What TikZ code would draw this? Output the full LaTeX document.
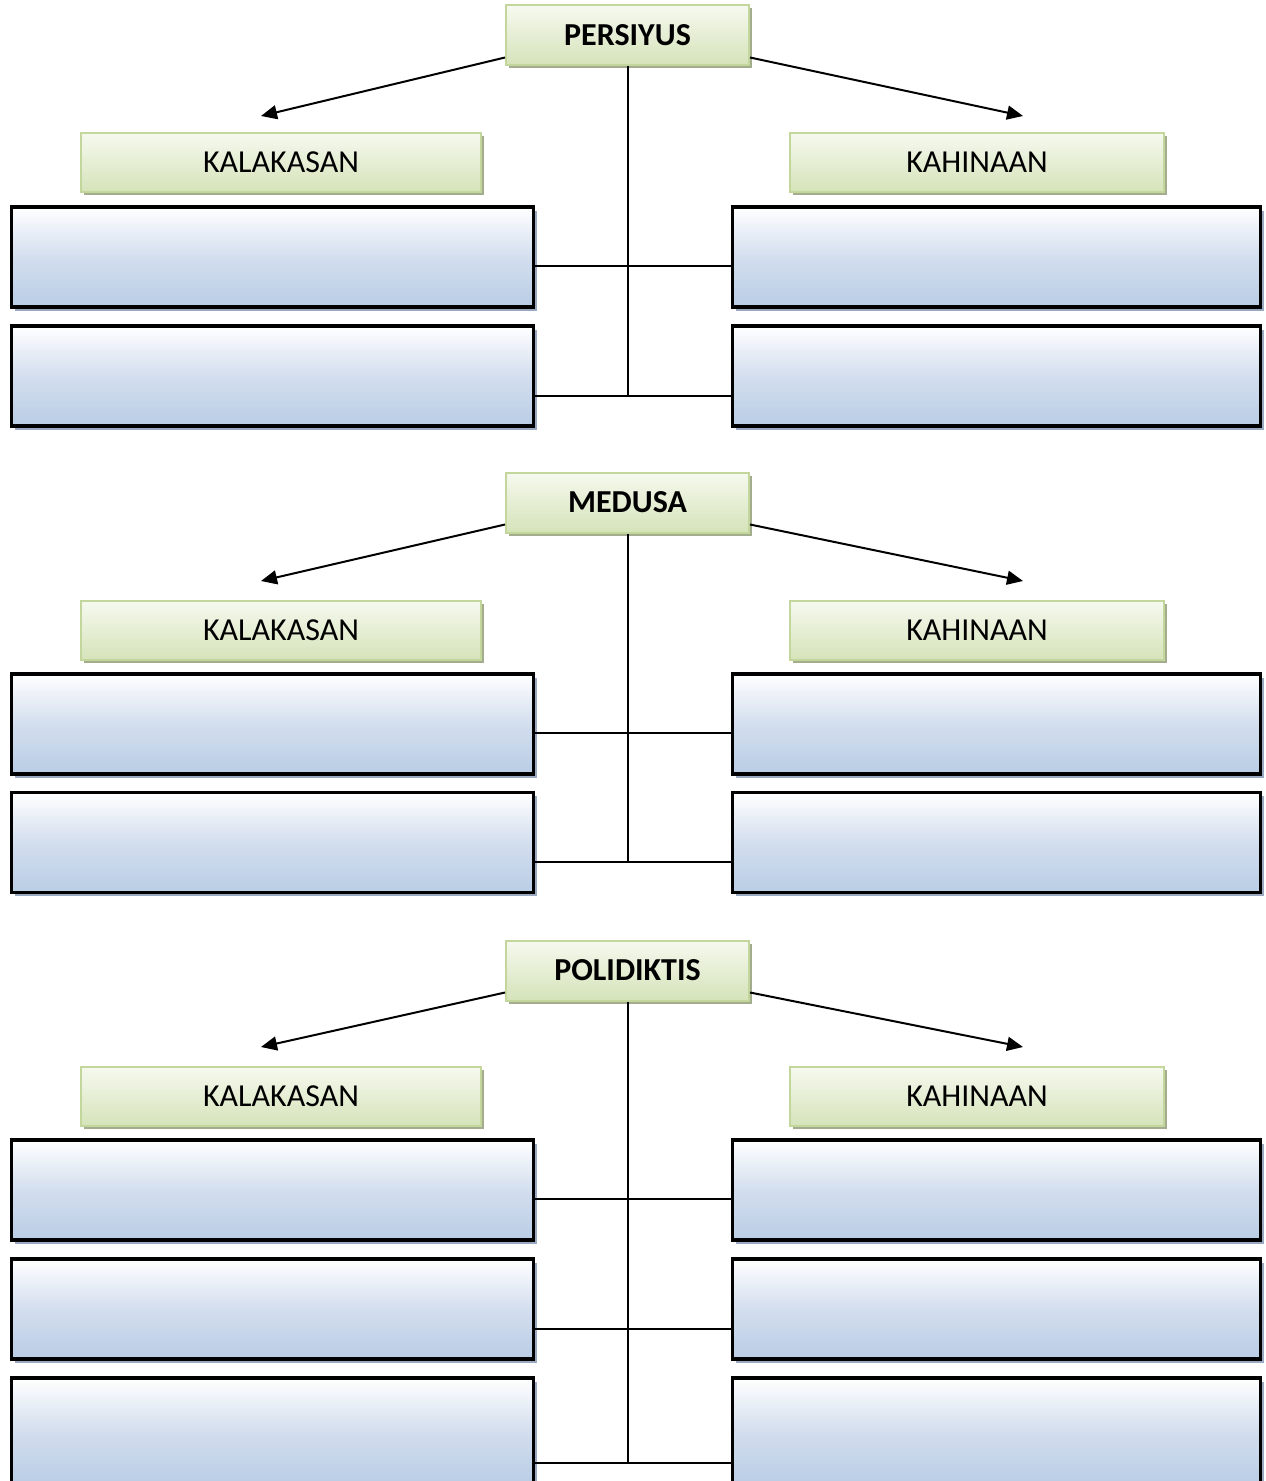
\documentclass[tikz,border=0pt]{standalone}
\usepackage{fontspec}
\setmainfont{Carlito}
\usetikzlibrary{shadows,arrows.meta}
\definecolor{greenline}{HTML}{C3D69B}
\definecolor{greentop}{HTML}{F6F9EF}
\definecolor{greenbot}{HTML}{D5E3B9}
\definecolor{greenshadow}{HTML}{A3AD8E}
\definecolor{bluemid}{HTML}{D3DEEE}
\definecolor{bluebot}{HTML}{B9CDE5}
\definecolor{blueshadow}{HTML}{9AA9BF}
\tikzset{
  titlebox/.style={draw=greenline, line width=1pt, top color=greentop, bottom color=greenbot,
    drop shadow={shadow xshift=1.5pt, shadow yshift=-1.5pt, fill=greenshadow, opacity=1},
    minimum width=121.5pt, minimum height=30pt, inner sep=0pt,
    font=\fontsize{16}{19}\selectfont\bfseries},
  sidebox/.style={titlebox, minimum height=29.5pt, font=\fontsize{16}{19}\selectfont},
  blankbox/.style={draw=black, line width=1.8pt, top color=white, bottom color=bluebot,
    middle color=bluemid,
    drop shadow={shadow xshift=1.8pt, shadow yshift=-1.8pt, fill=blueshadow, opacity=1},
    minimum height=50pt, inner sep=0pt},
  link/.style={line width=1pt},
  pointer/.style={line width=1pt, -{Triangle[length=8pt,width=7pt]}}
}
\begin{document}
\begin{tikzpicture}[x=0.5pt,y=-0.5pt]
            \useasboundingbox (0,0) rectangle (1265,1481);
            % PERSIYUS
            \node[titlebox] (persiyus) at (627.5,35.5) {PERSIYUS};
            \node[sidebox, minimum width=200pt] (kal1) at (281,162.5) {KALAKASAN};
            \node[sidebox, minimum width=187pt] (kah1) at (977,162.5) {KAHINAAN};
            \node[blankbox, minimum width=261pt] (l11) at (272.5,257) {};
            \node[blankbox, minimum width=261pt] (l12) at (272.5,376) {};
            \node[blankbox, minimum width=264pt] (r11) at (996.5,257) {};
            \node[blankbox, minimum width=264pt] (r12) at (996.5,376) {};
            \coordinate (kal1tip) at (261,116);
            \coordinate (kah1tip) at (1023,116);
            \coordinate (j11) at (628,266);
            \coordinate (j12) at (628,396);
            \draw[pointer] (persiyus.south west) ++(0,-9) -- (kal1tip);
            \draw[pointer] (persiyus.south east) ++(0,-9) -- (kah1tip);
            \draw[link] (persiyus.south) -- (persiyus.south |- j12);
            \draw[link] (l11.east |- j11) -- (r11.west |- j11);
            \draw[link] (l12.east |- j12) -- (r12.west |- j12);
            % MEDUSA
            \node[titlebox] (medusa) at (627.5,502.5) {MEDUSA};
            \node[sidebox, minimum width=200pt] (kal2) at (281,630.5) {KALAKASAN};
            \node[sidebox, minimum width=187pt] (kah2) at (977,630.5) {KAHINAAN};
            \node[blankbox, minimum width=261pt] (l21) at (272.5,724) {};
            \node[blankbox, minimum width=261pt] (l22) at (272.5,842.5) {};
            \node[blankbox, minimum width=264pt] (r21) at (996.5,724) {};
            \node[blankbox, minimum width=264pt] (r22) at (996.5,842.5) {};
            \coordinate (kal2tip) at (261,581);
            \coordinate (kah2tip) at (1023,581);
            \coordinate (j21) at (628,733);
            \coordinate (j22) at (628,862);
            \draw[pointer] (medusa.south west) ++(0,-9) -- (kal2tip);
            \draw[pointer] (medusa.south east) ++(0,-9) -- (kah2tip);
            \draw[link] (medusa.south) -- (medusa.south |- j22);
            \draw[link] (l21.east |- j21) -- (r21.west |- j21);
            \draw[link] (l22.east |- j22) -- (r22.west |- j22);
            % POLIDIKTIS
            \node[titlebox] (polidiktis) at (627.5,970.5) {POLIDIKTIS};
            \node[sidebox, minimum width=200pt] (kal3) at (281,1096.5) {KALAKASAN};
            \node[sidebox, minimum width=187pt] (kah3) at (977,1096.5) {KAHINAAN};
            \node[blankbox, minimum width=261pt] (l31) at (272.5,1190) {};
            \node[blankbox, minimum width=261pt] (l32) at (272.5,1309) {};
            \node[blankbox, minimum width=261pt, minimum height=53pt] (l33) at (272.5,1431) {};
            \node[blankbox, minimum width=264pt] (r31) at (996.5,1190) {};
            \node[blankbox, minimum width=264pt] (r32) at (996.5,1309) {};
            \node[blankbox, minimum width=264pt, minimum height=53pt] (r33) at (996.5,1431) {};
            \coordinate (kal3tip) at (261,1047);
            \coordinate (kah3tip) at (1023,1047);
            \coordinate (j31) at (628,1199);
            \coordinate (j32) at (628,1329);
            \coordinate (j33) at (628,1463);
            \draw[pointer] (polidiktis.south west) ++(0,-9) -- (kal3tip);
            \draw[pointer] (polidiktis.south east) ++(0,-9) -- (kah3tip);
            \draw[link] (polidiktis.south) -- (polidiktis.south |- j33);
            \draw[link] (l31.east |- j31) -- (r31.west |- j31);
            \draw[link] (l32.east |- j32) -- (r32.west |- j32);
            \draw[link] (l33.east |- j33) -- (r33.west |- j33);
        \end{tikzpicture}
\end{document}
